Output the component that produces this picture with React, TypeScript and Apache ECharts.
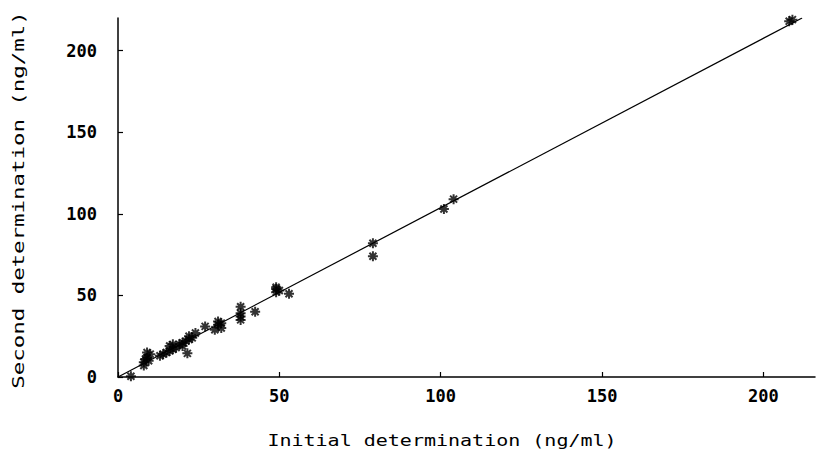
import React, { useEffect, useRef } from "react";
import * as echarts from "echarts";

const initialValues: number[] = [
  4, 8, 8, 8.5, 9, 9.5, 10, 9, 13, 14, 15, 16, 17, 16, 17, 18, 19, 20, 21, 22,
  23, 24, 22, 20, 21.5, 27, 30, 31, 32, 31, 32, 38, 38, 38, 38, 42.5, 49, 49,
  50, 49, 53, 79, 79, 101, 104, 208, 209,
];
const secondValues: number[] = [
  0.5, 7, 9, 11, 12, 10, 14, 15, 13, 14, 15, 16, 17, 19, 20, 18, 20, 21, 22,
  23, 24, 27, 25, 19, 14.5, 31, 29, 32, 30, 34, 33, 35, 37, 39, 43, 40, 52, 54,
  53, 55, 51, 82, 74, 103, 109, 218, 219,
];
const fitLine: number[][] = [
  [0, 0],
  [212, 220],
];
const tickValues: number[] = [0, 50, 100, 150, 200];
const xTitle = "Initial determination (ng/ml)";
const yTitle = "Second determination (ng/ml)";

const points = initialValues.map((x, i) => [x, secondValues[i]]);

const ASTERISK =
  "path://M5 0 L5 10 M0 5 L10 5 M1.5 1.5 L8.5 8.5 M8.5 1.5 L1.5 8.5";

export default function App() {
  const ref = useRef<HTMLDivElement>(null);
  useEffect(() => {
    document.body.style.margin = "0";
    if (!ref.current) return;
    const chart = echarts.init(ref.current, undefined, { renderer: "svg" });
    const mono = "DejaVu Sans Mono";
    const axisCommon = {
      axisLine: { show: true, lineStyle: { color: "#000", width: 1.5 } },
      axisTick: {
        show: true,
        inside: true,
        length: 5,
        lineStyle: { color: "#000", width: 1.2 },
        customValues: tickValues,
      },
      splitLine: { show: false },
      axisLabel: {
        color: "#000",
        fontFamily: mono,
        fontSize: 17,
        fontWeight: "bold" as const,
        customValues: tickValues,
      },
    };
    chart.setOption({
      animation: false,
      backgroundColor: "#fff",
      grid: { left: 118, right: 6, top: 18, bottom: 83 },
      xAxis: {
        type: "value",
        min: 0,
        max: 216,
        ...axisCommon,
        axisLabel: { ...axisCommon.axisLabel, margin: 10 },
      },
      yAxis: {
        type: "value",
        min: 0,
        max: 220,
        ...axisCommon,
        axisLabel: { ...axisCommon.axisLabel, margin: 21 },
      },
      graphic: [
        {
          type: "text",
          x: 442,
          y: 440,
          scaleX: 1.25,
          style: {
            text: xTitle,
            fill: "#000",
            font: `16px "${mono}"`,
            align: "center",
            verticalAlign: "middle",
          },
        },
        {
          type: "text",
          x: 19,
          y: 200,
          rotation: Math.PI / 2,
          scaleX: 1.4,
          style: {
            text: yTitle,
            fill: "#000",
            font: `16px "${mono}"`,
            align: "center",
            verticalAlign: "middle",
          },
        },
      ],
      series: [
        {
          type: "line",
          data: fitLine,
          symbol: "none",
          lineStyle: { color: "#000", width: 1.2 },
          z: 1,
        },
        {
          type: "scatter",
          data: points,
          symbol: ASTERISK,
          symbolSize: 10,
          itemStyle: {
            color: "rgba(0,0,0,0)",
            borderColor: "#000",
            borderWidth: 2,
          },
          z: 2,
        },
      ],
    });
    return () => chart.dispose();
  }, []);
  return <div ref={ref} style={{ width: 821, height: 460 }} />;
}
